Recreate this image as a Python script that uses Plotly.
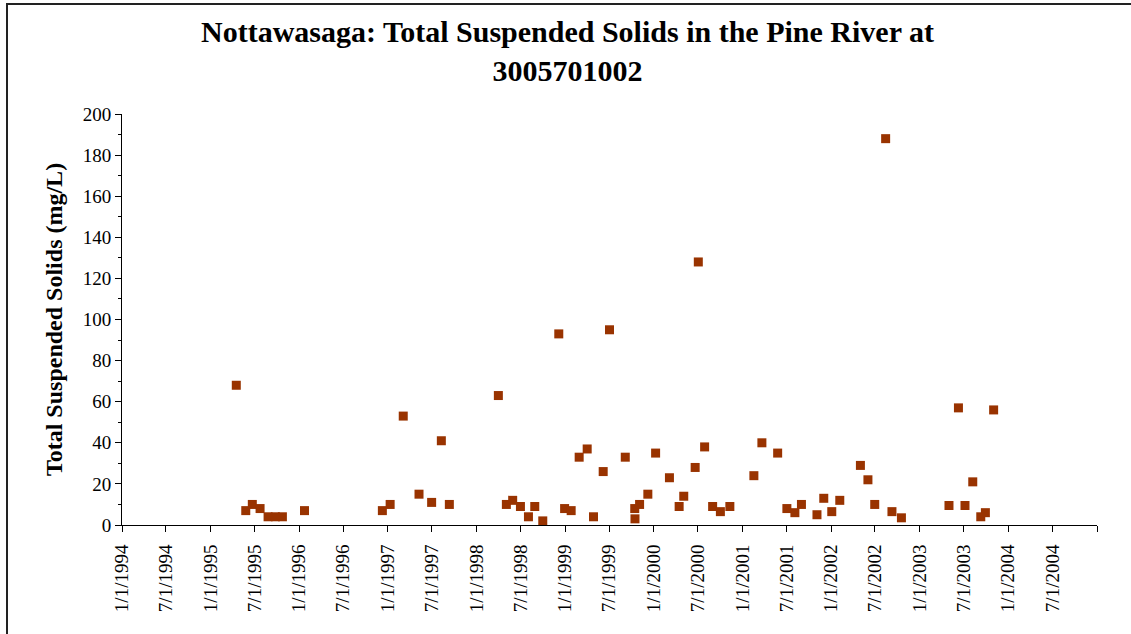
import plotly.graph_objects as go

# Sample dates and Total Suspended Solids values (mg/L)
sample_dates = [
    "1995-04-17", "1995-05-26", "1995-06-22", "1995-07-24", "1995-08-26", "1995-09-25",
    "1995-10-24", "1996-01-23", "1996-12-09", "1997-01-10", "1997-03-05", "1997-05-09",
    "1997-06-30", "1997-08-09", "1997-09-11", "1998-04-01", "1998-05-04", "1998-05-30",
    "1998-07-01", "1998-08-03", "1998-08-29", "1998-10-01", "1998-12-06", "1998-12-30",
    "1999-01-26", "1999-02-28", "1999-04-02", "1999-04-28", "1999-06-07", "1999-07-03",
    "1999-09-06", "1999-10-15", "1999-10-16", "1999-11-04", "1999-12-08", "2000-01-09",
    "2000-03-06", "2000-04-15", "2000-05-04", "2000-06-20", "2000-07-03", "2000-07-29",
    "2000-08-31", "2000-10-02", "2000-11-10", "2001-02-17", "2001-03-22", "2001-05-26",
    "2001-07-03", "2001-08-05", "2001-09-01", "2001-11-04", "2001-12-02", "2002-01-04",
    "2002-02-06", "2002-05-02", "2002-06-02", "2002-06-30", "2002-08-14", "2002-09-09",
    "2002-10-18", "2003-05-02", "2003-06-10", "2003-07-07", "2003-08-08", "2003-09-10",
    "2003-09-29", "2003-11-02",
]
tss_values = [
    68, 7, 10, 8, 4, 4,
    4, 7, 7, 10, 53, 15,
    11, 41, 10, 63, 10, 12,
    9, 4, 9, 2, 93, 8,
    7, 33, 37, 4, 26, 95,
    33, 8, 3, 10, 15, 35,
    23, 9, 14, 28, 128, 38,
    9, 6.5, 9, 24, 40, 35,
    8, 6, 10, 5, 13, 6.5,
    12, 29, 22, 10, 188, 6.5,
    3.5, 9.5, 57, 9.5, 21, 4,
    6, 56,
]

# Axis tick positions / labels
x_tick_dates = [
    "1994-01-01", "1994-07-01", "1995-01-01", "1995-07-01", "1996-01-01", "1996-07-01",
    "1997-01-01", "1997-07-01", "1998-01-01", "1998-07-01", "1999-01-01", "1999-07-01",
    "2000-01-01", "2000-07-01", "2001-01-01", "2001-07-01", "2002-01-01", "2002-07-01",
    "2003-01-01", "2003-07-01", "2004-01-01", "2004-07-01", "2005-01-01",
]
x_tick_labels = [
    "1/1/1994", "7/1/1994", "1/1/1995", "7/1/1995", "1/1/1996", "7/1/1996",
    "1/1/1997", "7/1/1997", "1/1/1998", "7/1/1998", "1/1/1999", "7/1/1999",
    "1/1/2000", "7/1/2000", "1/1/2001", "7/1/2001", "1/1/2002", "7/1/2002",
    "1/1/2003", "7/1/2003", "1/1/2004", "7/1/2004", "",
]

W, H = 1131, 634
L, R, T, B = 122, 34, 114, 109
pw, ph = W - L - R, H - T - B

def px_x(p):
    return (p - L) / pw

def px_y(p):
    return (H - B - p) / ph

FONT = "Liberation Serif, Times New Roman, serif"

fig = go.Figure()
fig.add_trace(go.Scatter(
    x=sample_dates, y=tss_values, mode="markers",
    marker=dict(symbol="square", size=9, color="#993300", line=dict(width=0)),
    cliponaxis=False, showlegend=False,
))

fig.update_layout(
    width=W, height=H,
    margin=dict(l=L, r=R, t=T, b=B, autoexpand=False),
    paper_bgcolor="white", plot_bgcolor="white",
    font=dict(family=FONT, color="black"),
    xaxis=dict(
        type="date",
        range=["1994-01-01", "2005-01-01"],
        tickmode="array", tickvals=x_tick_dates, ticktext=x_tick_labels,
        tickangle=-90, tickfont=dict(family=FONT, size=19, color="black"),
        ticks="outside", ticklen=6, tickcolor="black", tickwidth=1,
        ticklabelstandoff=5,
        showline=True, linecolor="black", linewidth=1,
        showgrid=False, zeroline=False,
    ),
    yaxis=dict(
        range=[0, 200], dtick=20, tick0=0,
        tickfont=dict(family=FONT, size=19, color="black"),
        ticks="outside", ticklen=6, tickcolor="black", tickwidth=1,
        minor=dict(dtick=10, ticks="outside", ticklen=3, tickcolor="black", showgrid=False),
        showline=True, linecolor="black", linewidth=1,
        showgrid=False, zeroline=False,
        title=dict(text="<b>Total Suspended Solids (mg/L)</b>",
                   font=dict(family=FONT, size=24, color="black"), standoff=13),
    ),
    annotations=[
        dict(text="<b>Nottawasaga: Total Suspended Solids in the Pine River at<br>3005701002</b>",
             xref="paper", yref="paper", x=px_x(567), y=px_y(13),
             xanchor="center", yanchor="top", showarrow=False, align="center",
             font=dict(family=FONT, size=30, color="black")),
    ],
    shapes=[
        dict(type="line", xref="paper", yref="paper",
             x0=px_x(7), x1=px_x(7), y0=px_y(3), y1=px_y(H + 5),
             line=dict(color="#222222", width=2)),
        dict(type="line", xref="paper", yref="paper",
             x0=px_x(6), x1=px_x(W + 5), y0=px_y(4), y1=px_y(4),
             line=dict(color="#222222", width=2)),
    ],
)

fig.write_html("out.html", config={"displayModeBar": False},
               post_script="document.body.style.margin='0';document.body.style.padding='0';")
